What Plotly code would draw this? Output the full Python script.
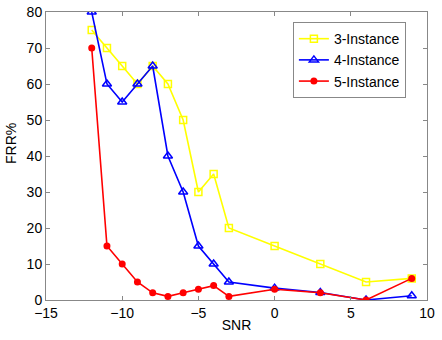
import plotly.graph_objects as go

snr = [-12, -11, -10, -9, -8, -7, -6, -5, -4, -3, 0, 3, 6, 9]
frr_3 = [75, 70, 65, 60, 65, 60, 50, 30, 35, 20, 15, 10, 5, 6]
frr_4 = [80, 60, 55, 60, 65, 40, 30, 15, 10, 5, 3.3, 2.1, 0, 1.2]
frr_5 = [70, 15, 10, 5, 2, 1, 2, 3, 4, 1, 3, 2, 0, 6]

FONT = "Liberation Sans, Arial"

fig = go.Figure()
fig.add_trace(go.Scatter(x=snr, y=frr_3, name="3-Instance", mode="lines+markers",
                         line=dict(color="#ffff00", width=1.6),
                         marker=dict(symbol="square-open", size=7, color="#ffff00", line=dict(width=1.5))))
fig.add_trace(go.Scatter(x=snr, y=frr_4, name="4-Instance", mode="lines+markers",
                         line=dict(color="#0000ff", width=1.6),
                         marker=dict(symbol="triangle-up-open", size=8, color="#0000ff", line=dict(width=1.5))))
fig.add_trace(go.Scatter(x=snr, y=frr_5, name="5-Instance", mode="lines+markers",
                         line=dict(color="#ff0000", width=1.6),
                         marker=dict(symbol="circle", size=7, color="#ff0000")))

axis_common = dict(showline=True, linecolor="#888888", linewidth=1, mirror="ticks",
                   ticks="inside", ticklen=4, tickcolor="#888888", showgrid=False,
                   zeroline=False, automargin=False,
                   tickfont=dict(family=FONT, size=14, color="black"))
fig.update_xaxes(range=[-15, 10], tickvals=[-15, -10, -5, 0, 5, 10],
                 title=dict(text="SNR", font=dict(family=FONT, size=14, color="black"), standoff=0),
                 **axis_common)
fig.update_yaxes(range=[0, 80], tickvals=[0, 10, 20, 30, 40, 50, 60, 70, 80], **axis_common)
fig.add_annotation(text="FRR%", xref="paper", yref="paper", x=-0.092, y=0.545,
                   textangle=-90, showarrow=False, xanchor="center", yanchor="middle",
                   font=dict(family=FONT, size=14, color="black"))
fig.update_layout(
    width=442, height=340,
    margin=dict(l=46, r=15, t=12, b=40, autoexpand=False),
    plot_bgcolor="white", paper_bgcolor="white",
    legend=dict(x=0.648, y=0.965, xanchor="left", yanchor="top",
                bordercolor="#888888", borderwidth=1, bgcolor="white",
                font=dict(family=FONT, size=14, color="black"),
                tracegroupgap=0, itemwidth=30),
    showlegend=True,
)
fig.write_html("out.html", config={"displayModeBar": False},
               post_script="document.body.style.margin='0';")
